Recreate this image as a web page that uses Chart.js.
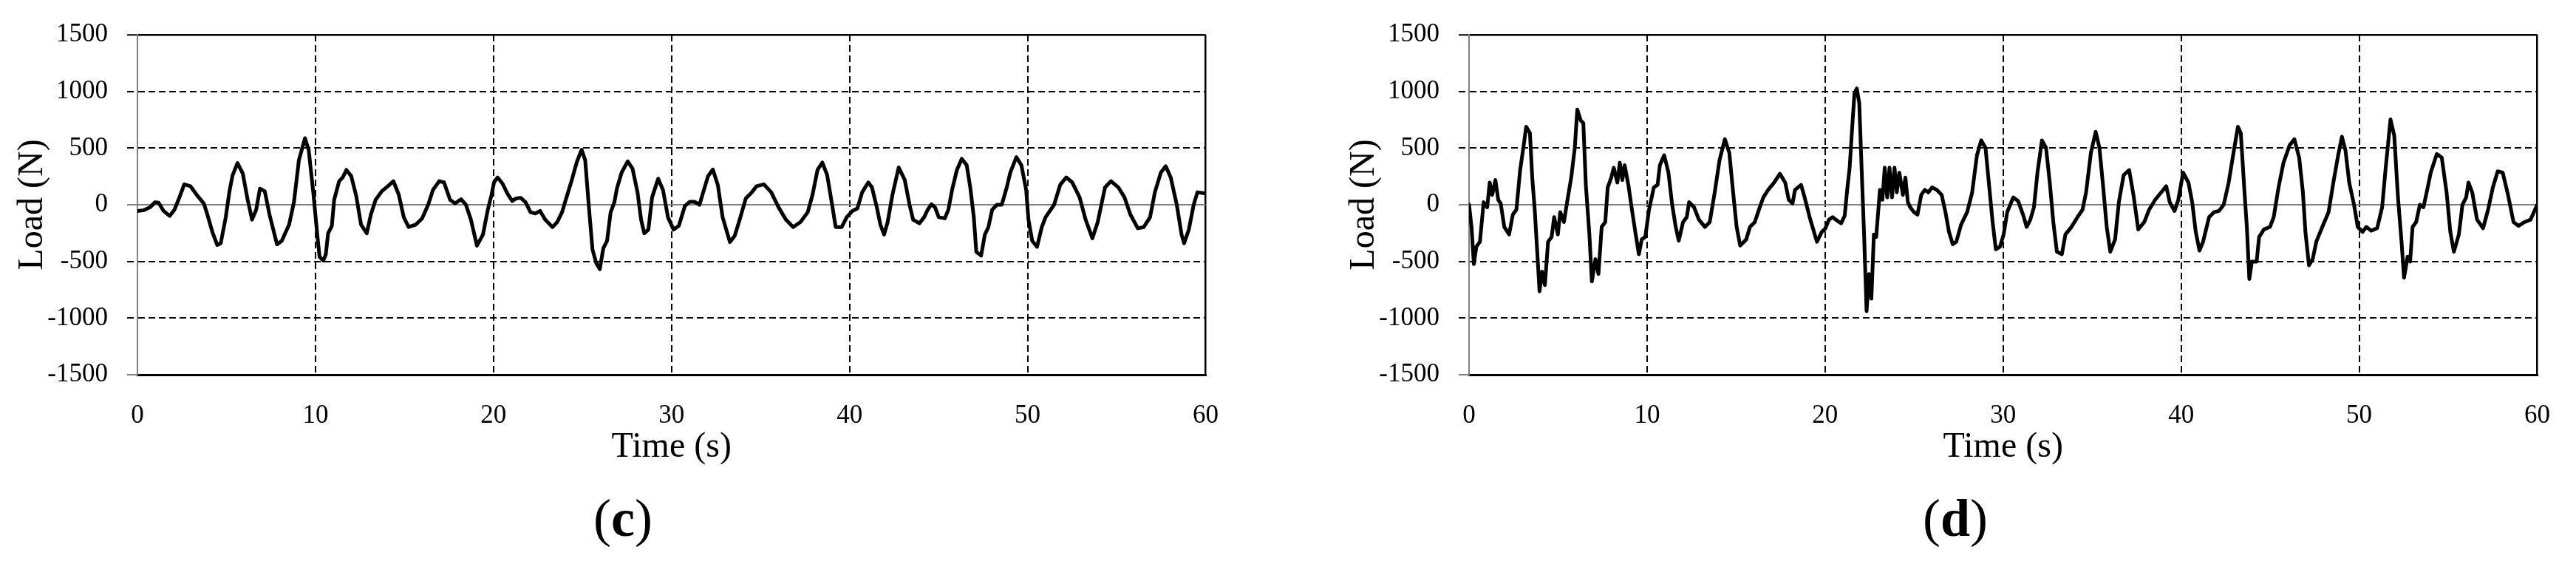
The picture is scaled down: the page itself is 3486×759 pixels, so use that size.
<!DOCTYPE html>
<html>
<head>
<meta charset="utf-8">
<script src="https://cdn.jsdelivr.net/npm/chart.js@4.4.0/dist/chart.umd.min.js"></script>
<style>
  html, body { margin: 0; padding: 0; background: #fff; width: 3486px; height: 759px; overflow: hidden; }
  .panel { position: absolute; top: 0; width: 1684px; height: 640px; }
  .tag { position: absolute; top: 655px; font-family: 'Liberation Serif', serif; font-size: 72px; line-height: 92px; transform: translateX(-50%); color: #000; }
</style>
</head>
<body>
<div class="panel" style="left:0"><canvas id="chartC" width="1684" height="640"></canvas></div>
<div class="panel" style="left:1802px"><canvas id="chartD" width="1684" height="640"></canvas></div>
<div class="tag" style="left:843px">(<b>c</b>)</div>
<div class="tag" style="left:2646px">(<b>d</b>)</div>
<script>
const FONT = "'Liberation Serif', 'Times New Roman', serif";
const GREY = '#808080';
const BLACK = '#000000';

// axis ranges / ticks
const X_TICKS = [0, 10, 20, 30, 40, 50, 60];
const Y_TICKS = [-1500, -1000, -500, 0, 500, 1000, 1500];

// panel (c): time (s) and load (N)
const timeC = [0.00,0.37,0.71,0.99,1.19,1.47,1.81,2.08,2.36,2.63,2.97,3.38,3.73,3.93,4.21,4.48,4.68,4.96,5.16,5.34,
  5.62,5.92,6.19,6.44,6.67,6.88,7.15,7.42,7.84,8.11,8.52,8.79,9.07,9.41,9.62,9.89,10.10,10.23,10.44,10.58,
  10.71,10.92,11.05,11.33,11.53,11.74,12.01,12.29,12.56,12.88,13.11,13.38,13.73,14.07,14.38,14.68,14.96,15.23,15.64,15.99,
  16.33,16.60,16.95,17.22,17.56,17.84,18.18,18.45,18.73,19.07,19.41,19.68,19.89,20.03,20.23,20.51,20.78,21.05,21.26,21.53,
  21.80,22.08,22.35,22.62,22.90,23.31,23.58,23.85,24.06,24.40,24.67,24.95,25.15,25.36,25.56,25.77,25.97,26.17,26.38,26.58,
  26.79,26.93,27.20,27.54,27.81,28.09,28.29,28.47,28.70,28.91,29.25,29.52,29.80,30.11,30.41,30.75,31.02,31.30,31.57,31.78,
  32.05,32.32,32.60,32.87,33.28,33.55,33.83,34.17,34.51,34.78,35.19,35.60,36.01,36.42,36.83,37.24,37.65,37.92,38.20,38.47,
  38.74,39.02,39.22,39.56,39.84,40.16,40.44,40.71,41.05,41.26,41.53,41.73,41.94,42.14,42.41,42.76,43.10,43.37,43.57,43.92,
  44.19,44.39,44.60,44.80,45.01,45.35,45.55,45.76,46.03,46.30,46.58,46.78,46.98,47.12,47.39,47.60,47.80,48.01,48.28,48.55,
  48.83,49.03,49.37,49.65,49.92,50.05,50.26,50.53,50.80,51.01,51.49,51.83,52.17,52.51,52.92,53.26,53.64,53.94,54.35,54.69,
  55.10,55.44,55.78,56.19,56.53,56.88,57.15,57.49,57.76,58.04,58.38,58.65,58.79,59.06,59.33,59.54,60.00];
const loadC = [-55,-48,-22,22,18,-55,-99,-44,66,180,164,77,11,-88,-241,-355,-340,-110,110,258,
  368,274,44,-131,-44,142,120,-88,-350,-318,-175,22,394,587,482,88,-263,-460,-493,-438,
  -252,-186,44,208,241,307,252,77,-175,-252,-88,44,120,164,208,88,-110,-197,-175,-120,
  0,131,208,197,44,11,48,0,-131,-361,-263,-44,88,197,241,186,99,33,55,61,
  22,-66,-77,-55,-131,-197,-153,-66,44,219,372,486,394,-22,-394,-515,-569,-383,-318,-66,
  22,142,285,383,318,110,-131,-252,-219,66,230,131,-110,-219,-186,-11,26,26,0,110,
  252,311,175,-110,-329,-274,-131,55,110,164,180,110,-22,-131,-197,-153,-66,88,307,372,
  263,0,-197,-197,-110,-55,-33,110,197,153,-22,-175,-263,-153,88,329,219,0,-131,-164,
  -110,-44,4,-22,-110,-120,-44,131,307,405,350,153,-110,-416,-449,-263,-197,-44,0,0,
  153,285,420,350,131,-131,-318,-372,-197,-110,0,175,241,197,66,-131,-296,-153,153,208,
  153,66,-88,-208,-197,-110,110,285,340,241,0,-263,-340,-219,0,110,99];

// panel (d)
const timeD = [0.00,0.14,0.27,0.41,0.61,0.82,1.02,1.16,1.30,1.48,1.64,1.78,1.98,2.25,2.46,2.66,2.87,3.07,3.21,3.42,
  3.55,3.69,3.83,3.96,4.10,4.26,4.44,4.64,4.78,4.99,5.12,5.33,5.53,5.74,5.94,6.08,6.28,6.42,6.56,6.76,
  6.90,7.10,7.27,7.45,7.65,7.79,7.99,8.13,8.33,8.47,8.61,8.74,8.95,9.15,9.36,9.54,9.70,9.90,10.11,10.38,
  10.59,10.72,10.96,11.20,11.41,11.61,11.78,12.02,12.23,12.36,12.64,12.91,13.25,13.52,13.80,14.07,14.37,14.62,14.82,15.03,
  15.23,15.57,15.78,16.05,16.33,16.53,16.80,17.14,17.46,17.76,17.96,18.17,18.31,18.65,18.85,19.13,19.54,19.81,20.01,20.22,
  20.42,20.69,20.90,21.10,21.24,21.38,21.51,21.65,21.78,21.92,22.06,22.19,22.33,22.47,22.60,22.74,22.87,23.08,23.22,23.35,
  23.49,23.62,23.76,23.90,24.03,24.17,24.37,24.51,24.65,24.78,24.99,25.19,25.40,25.60,25.80,26.01,26.28,26.55,26.76,26.96,
  27.17,27.37,27.64,27.98,28.26,28.53,28.77,29.01,29.21,29.41,29.59,29.82,30.03,30.23,30.57,30.84,31.12,31.32,31.53,31.73,
  31.93,32.18,32.41,32.62,32.82,33.02,33.30,33.50,33.84,34.18,34.46,34.66,34.93,35.20,35.41,35.61,35.82,36.02,36.29,36.50,
  36.77,37.08,37.32,37.59,37.93,38.20,38.54,38.88,39.16,39.36,39.63,39.84,40.11,40.41,40.62,40.82,41.03,41.23,41.57,41.85,
  42.12,42.39,42.67,42.94,43.19,43.35,43.56,43.69,43.83,43.97,44.24,44.38,44.65,44.99,45.20,45.47,45.75,46.09,46.36,46.63,
  46.84,46.98,47.18,47.39,47.59,47.93,48.28,48.55,48.82,49.03,49.23,49.44,49.71,49.92,50.19,50.40,50.67,51.01,51.29,51.49,
  51.76,51.97,52.18,52.38,52.52,52.72,52.86,53.00,53.20,53.41,53.61,53.82,54.02,54.36,54.64,54.91,55.12,55.32,55.60,55.80,
  56.01,56.14,56.35,56.62,56.96,57.24,57.51,57.78,58.06,58.33,58.67,58.95,59.29,59.63,60.00];
const loadD = [0,-196,-524,-371,-327,22,-22,196,87,218,44,11,-196,-262,-87,-44,306,524,688,633,
  240,-44,-415,-764,-590,-709,-327,-284,-109,-262,-65,-153,44,240,502,840,742,720,175,-262,
  -677,-480,-611,-196,-153,153,240,327,196,371,218,349,175,-44,-262,-437,-306,-284,-44,153,
  175,349,437,284,0,-196,-317,-153,-109,22,-22,-131,-196,-153,109,393,578,458,131,-196,
  -360,-306,-196,-153,-22,65,131,196,273,196,44,11,131,175,65,-109,-327,-240,-210,-131,
  -109,-142,-164,-98,131,327,655,982,1026,895,284,-262,-939,-611,-829,-262,-284,131,44,327,
  65,327,65,327,109,284,87,240,22,-22,-65,-87,87,131,109,153,131,87,-65,-240,
  -349,-327,-175,-65,109,437,568,502,175,-153,-393,-371,-262,-65,65,33,-87,-196,-131,-22,
  284,568,502,196,-153,-415,-437,-262,-196,-109,-44,109,458,644,502,175,-196,-415,-306,22,
  262,306,87,-218,-153,-44,44,109,164,22,-55,44,284,196,22,-240,-404,-327,-109,-65,
  -55,0,196,458,688,633,109,-196,-655,-502,-502,-284,-218,-196,-109,153,371,524,578,415,
  109,-240,-535,-480,-327,-196,-65,196,437,600,480,196,0,-196,-240,-196,-229,-207,-22,327,
  753,611,65,-327,-644,-458,-502,-196,-153,0,-22,131,284,448,415,109,-240,-415,-262,0,
  65,196,109,-131,-207,-44,153,295,284,109,-153,-186,-153,-131,0];

Chart.defaults.font.family = FONT;

function isDashedY(v) {
    return v !== 0 && Math.abs(v) !== 1500;
}

function isDashedX(v) {
    return v > 0 && v < 60;
}

function makeChart(id, time, load) {
    const ctx = document.getElementById(id).getContext('2d');
    return new Chart(ctx, {
        type: 'line',
        data: {
            datasets: [{
                data: time.map((t, i) => ({x: t, y: load[i]})),
                borderColor: BLACK,
                borderWidth: 5,
                pointRadius: 0,
                tension: 0,
                fill: false,
                borderJoinStyle: 'round',
                borderCapStyle: 'round'
            }]
        },
        options: {
            responsive: false,
            animation: false,
            devicePixelRatio: 1,
            layout: { padding: { top: 47, right: 38, bottom: 0, left: 0 } },
            plugins: {
                legend: { display: false },
                tooltip: { enabled: false }
            },
            scales: {
                x: {
                    type: 'linear',
                    min: X_TICKS[0],
                    max: X_TICKS[X_TICKS.length - 1],
                    afterBuildTicks: s => { s.ticks = X_TICKS.map(v => ({value: v})); },
                    ticks: {
                        padding: 35,
                        color: BLACK,
                        font: { size: 35 },
                        callback: v => String(v)
                    },
                    grid: {
                        drawTicks: false,
                        color: c => (c.tick && c.tick.value === 0) ? 'rgba(0,0,0,0)' : BLACK,
                        lineWidth: c => (c.tick && c.tick.value === 60) ? 2.5 : 2
                    },
                    border: {
                        color: BLACK,
                        width: 3,
                        dash: c => (c.tick && isDashedX(c.tick.value)) ? [9, 5] : []
                    },
                    title: {
                        display: true,
                        text: 'Time (s)',
                        color: BLACK,
                        font: { size: 48 },
                        padding: { top: 0, bottom: 6 }
                    },
                    afterFit: s => { s.height = 133; }
                },
                y: {
                    min: Y_TICKS[0],
                    max: Y_TICKS[Y_TICKS.length - 1],
                    afterBuildTicks: s => { s.ticks = Y_TICKS.map(v => ({value: v})); },
                    ticks: {
                        padding: 26,
                        color: BLACK,
                        font: { size: 35 },
                        callback: v => String(v)
                    },
                    grid: {
                        color: c => (c.tick && (c.tick.value === 0 || c.tick.value === -1500)) ? GREY : BLACK,
                        lineWidth: c => (c.tick && c.tick.value === 1500) ? 2.5 : 2,
                        tickLength: 14,
                        tickWidth: 2,
                        tickColor: c => (c.tick && (c.tick.value === 0 || c.tick.value === -1500)) ? GREY : BLACK,
                        tickBorderDash: c => (c.tick && isDashedY(c.tick.value)) ? [9, 5] : []
                    },
                    border: {
                        color: GREY,
                        width: 2,
                        dash: c => (c.tick && isDashedY(c.tick.value)) ? [9, 5] : []
                    },
                    title: {
                        display: true,
                        text: 'Load (N)',
                        color: BLACK,
                        font: { size: 48 },
                        padding: { top: 16, bottom: 0 }
                    },
                    afterFit: s => { s.width = 186; }
                }
            }
        }
    });
}

makeChart('chartC', timeC, loadC);
makeChart('chartD', timeD, loadD);
</script>
</body>
</html>
